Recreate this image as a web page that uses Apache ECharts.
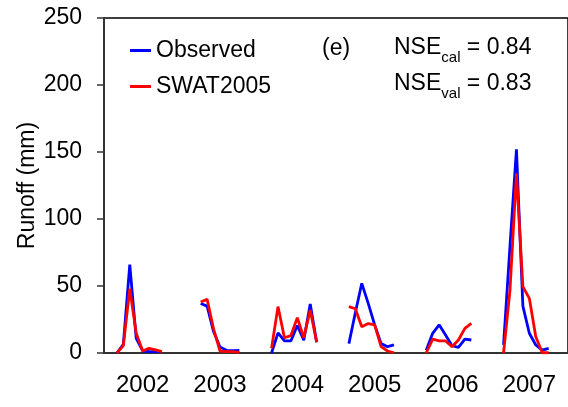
<!DOCTYPE html>
<html>
<head>
<meta charset="utf-8">
<script src="https://cdn.jsdelivr.net/npm/echarts@6/dist/echarts.min.js"></script>
<style>
  html, body { margin: 0; padding: 0; background: #fff; }
  #runoff-chart { width: 568px; height: 407px; }
</style>
</head>
<body>
<div id="runoff-chart"></div>
<script>
  // years on the x axis, 12 month slots each
  let years = ['2002', '2003', '2004', '2005', '2006', '2007']
  // month slot of each reading inside its year
  let monthSlots = [2, 3, 4, 5, 6, 7, 8, 9]

  // monthly runoff (mm), one row per year, null = no reading
  let observed = [
    [0, 6.5, 66, 11, 1.5, 1, 1, 1],
    [null, 37, 35, 16, 4.5, 2, 1.7, 2],
    [0, 15, 9, 9, 20.5, 9.5, 36.5, 8],
    [7, 30, 52, 37, 21, 7, 4.7, 6],
    [2, 14.7, 21, 13.4, 5.4, 4.2, 10.4, 9.7],
    [6, 80, 152, 35, 14.7, 6, 2.2, 3.5]
  ]
  let swat2005 = [
    [0, 5.5, 48, 14.7, 1.5, 3.5, 2.3, 1],
    [null, 38, 40, 18, 1.5, 1, 1, 0.4],
    [3.5, 34.6, 11.4, 13, 26.4, 11.4, 32, 8],
    [34.6, 33, 19.6, 22, 21, 4.7, 1.5, 0.2],
    [0, 10.4, 9, 9, 4.7, 9.7, 18.4, 22.1],
    [0, 47, 134, 49.5, 40.8, 12.2, 0.2, 0.2]
  ]

  function buildSeriesData(rows) {
    let out = []
    rows.forEach((row, yi) => {
      row.forEach((v, mi) => {
        out.push([yi * 12 + monthSlots[mi], v])
      })
      // break the line between years
      out.push([yi * 12 + 11, null])
    })
    return out
  }

  let axisColor = '#333'
  let fontFamily = 'Liberation Sans, Arial, sans-serif'
  let fontSize = 23

  let chart = echarts.init(document.getElementById('runoff-chart'))
  let option = {
    animation: false,
    textStyle: {fontFamily: fontFamily},
    grid: {
      left: 104,
      right: -10,
      top: 18,
      bottom: 54,
      show: true,
      borderColor: '#000',
      borderWidth: 1.5
    },
    legend: {
      orient: 'vertical',
      left: 125,
      top: 34,
      icon: 'rect',
      itemWidth: 21,
      itemHeight: 3,
      itemGap: 13,
      textStyle: {fontSize: fontSize, color: '#000', fontFamily: fontFamily},
      data: ['Observed', 'SWAT2005']
    },
    xAxis: [
      {
        type: 'category',
        data: years,
        boundaryGap: true,
        axisLine: {lineStyle: {color: axisColor, width: 2}},
        axisTick: {length: 7, lineStyle: {color: axisColor, width: 1.5}},
        axisLabel: {fontSize: 24, color: '#000', margin: 20, fontFamily: fontFamily},
        splitLine: {show: false}
      },
      {
        type: 'value',
        min: 0,
        max: 72,
        show: false
      }
    ],
    yAxis: {
      type: 'value',
      min: 0,
      max: 250,
      interval: 50,
      name: 'Runoff (mm)',
      nameLocation: 'middle',
      nameGap: 65,
      nameMoveOverlap: false,
      nameTextStyle: {fontSize: fontSize, color: '#000', fontFamily: fontFamily},
      axisLine: {show: true, lineStyle: {color: axisColor, width: 2}},
      axisTick: {show: true, length: 7, lineStyle: {color: axisColor, width: 1.5}},
      axisLabel: {fontSize: fontSize, color: '#000', margin: 22, fontFamily: fontFamily},
      splitLine: {show: false}
    },
    graphic: [
      {
        type: 'text',
        left: 322,
        top: 37,
        style: {text: '(e)', fontSize: fontSize, fill: '#000', fontFamily: fontFamily}
      },
      {
        type: 'text',
        left: 394,
        top: 36,
        style: {
          text: '{b|NSE}{s|cal}{b| = 0.84}\n{b|NSE}{s|val}{b| = 0.83}',
          fill: '#000',
          fontFamily: fontFamily,
          rich: {
            b: {fontSize: fontSize, lineHeight: 36, fontFamily: fontFamily},
            s: {fontSize: 15, lineHeight: 22, verticalAlign: 'bottom', fontFamily: fontFamily}
          }
        }
      }
    ],
    series: [
      {
        name: 'Observed',
        type: 'line',
        xAxisIndex: 1,
        data: buildSeriesData(observed),
        showSymbol: false,
        symbol: 'none',
        connectNulls: false,
        itemStyle: {color: '#0000ff'},
        lineStyle: {color: '#0000ff', width: 2.8}
      },
      {
        name: 'SWAT2005',
        type: 'line',
        xAxisIndex: 1,
        data: buildSeriesData(swat2005),
        showSymbol: false,
        symbol: 'none',
        connectNulls: false,
        itemStyle: {color: '#ff0000'},
        lineStyle: {color: '#ff0000', width: 2.8}
      }
    ]
  }
  chart.setOption(option)
</script>
</body>
</html>
